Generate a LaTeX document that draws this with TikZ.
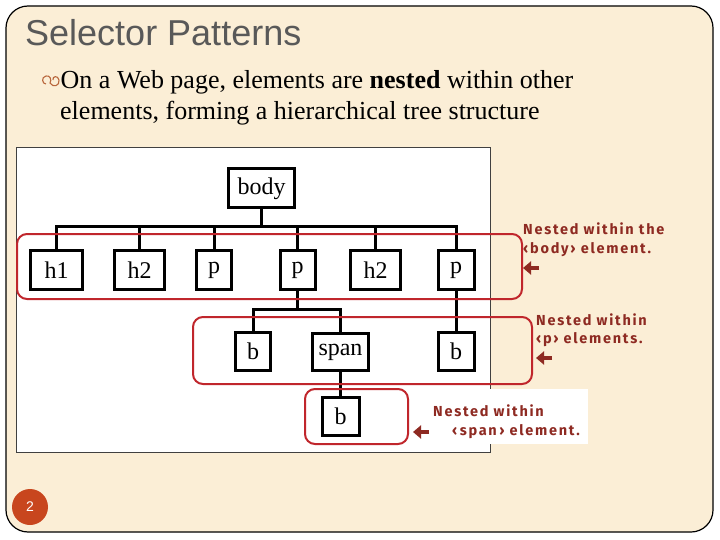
\documentclass[tikz,border=0pt]{standalone}
\usepackage{fontspec}
\usetikzlibrary{arrows.meta}
\newfontfamily\titlefont{Liberation Sans}
\newfontfamily\textfontA{Liberation Serif}
\newfontfamily\labfont[LetterSpace=12]{Fira Sans}
\definecolor{cream}{HTML}{FBEED6}
\definecolor{titlegray}{HTML}{595959}
\definecolor{boxred}{HTML}{C0262C}
\definecolor{labred}{HTML}{8E2A22}
\definecolor{pagered}{HTML}{C8461E}
\definecolor{bulletc}{HTML}{B8663C}
\tikzset{
  treebox/.style={draw=black, line width=3pt, fill=white, minimum height=39pt, inner sep=0pt, font=\textfontA\fontsize{24}{26}\selectfont},
  tline/.style={line width=3pt, line join=miter},
  groupbox/.style={draw=boxred, line width=2pt, rounded corners=10pt},
  labtext/.style={anchor=base west, inner sep=0pt, text=labred, font=\labfont\bfseries\fontsize{14.5}{16}\selectfont},
  labarrow/.style={draw=labred, line width=4pt, -{Triangle[length=8pt,width=13pt]}},
}
\begin{document}
\begin{tikzpicture}[x=1pt,y=-1pt]
\useasboundingbox (0,0) rectangle (720,540);
\fill[white] (0,0) rectangle (720,540);
\draw[fill=cream, line width=1.2pt, rounded corners=22pt] (6,6) rectangle (713,532);
% title
\node[anchor=base west, inner sep=0pt, text=titlegray, font=\titlefont\fontsize{36}{40}\selectfont] (title) at (25,46) {Selector Patterns};
% bullet
\draw[bulletc, line width=1.1pt] (46,84) .. controls (42,84) and (41,77) .. (46,76) .. controls (50,75) and (52,80) .. (50,83) .. controls (53,88) and (60,86) .. (59,80) .. controls (58,75) and (52,76) .. (53,80);
\node[anchor=base west, inner sep=0pt, font=\textfontA\fontsize{26}{28}\selectfont] (line1) at (60.5,89) {On a Web page, elements are \textbf{nested} within other};
\node[anchor=base west, inner sep=0pt, font=\textfontA\fontsize{26}{28}\selectfont] (line2) at (60,120) {elements, forming a hierarchical tree structure};
% image panel
\draw[fill=white, draw=black!75, line width=1pt] (16,148) rectangle (490,452);
\fill[white] (489.5,389) rectangle (588,444);
% tree nodes
\node[treebox, minimum width=66pt] (body) at (261.5,188.5) {body};
\node[treebox, minimum width=52pt] (h1) at (56.5,270) {h1};
\node[treebox, minimum width=50pt] (h2a) at (139.5,270) {h2};
\node[treebox, minimum width=35pt] (p1) at (214,270) {p};
\node[treebox, minimum width=35pt] (p2) at (297.5,270) {p};
\node[treebox, minimum width=50pt] (h2b) at (375.5,270) {h2};
\node[treebox, minimum width=36pt] (p3) at (456,270) {p};
\node[treebox, minimum width=35pt, minimum height=38pt] (b1) at (253,351.5) {b};
\node[treebox, minimum width=56pt, minimum height=37pt] (span) at (340.5,352) {span};
\node[treebox, minimum width=36pt, minimum height=38pt] (b2) at (456,351.5) {b};
\node[treebox, minimum width=37pt, minimum height=38pt] (b3) at (340.5,416.5) {b};
% connectors
\coordinate (bar1) at (261.5,227);
\coordinate (bar2) at (297.5,309);
\draw[tline] (body.south) -- (bar1);
\foreach \c in {h1,h2a,p1,p2,h2b,p3} \draw[tline] (\c.north) |- (bar1);
\draw[tline] (p2.south) -- (bar2);
\draw[tline] (b1.north) |- (bar2);
\draw[tline] (span.north) |- (bar2);
\draw[tline] (p3.south) -- (b2.north);
\draw[tline] (span.south) -- (b3.north);
% group boxes
\draw[groupbox] (17,234) rectangle (522,299);
\draw[groupbox] (193,317) rectangle (532,384);
\draw[groupbox] (305,389) rectangle (408,444);
% labels
\node[labtext] (l1a) at (523,235) {Nested within the};
\node[labtext] (l1b) at (523,253) {‹body› element.};
\node[labtext] (l2a) at (536,325) {Nested within};
\node[labtext] (l2b) at (536,343) {‹p› elements.};
\node[labtext] (l3a) at (433,416) {Nested within};
\node[labtext] (l3b) at (452,435) {‹\,span\,› element.};
\coordinate (a1s) at (539,268); \coordinate (a1e) at (523,268);
\coordinate (a2s) at (552,358); \coordinate (a2e) at (536,358);
\coordinate (a3s) at (429,432); \coordinate (a3e) at (413,432);
\draw[labarrow] (a1s) -- (a1e);
\draw[labarrow] (a2s) -- (a2e);
\draw[labarrow] (a3s) -- (a3e);
% page number
\node[circle, fill=pagered, minimum size=36pt, inner sep=0pt, text=white, font=\titlefont\fontsize{14}{16}\selectfont] (pnum) at (30,507) {2};
\end{tikzpicture}
\end{document}
